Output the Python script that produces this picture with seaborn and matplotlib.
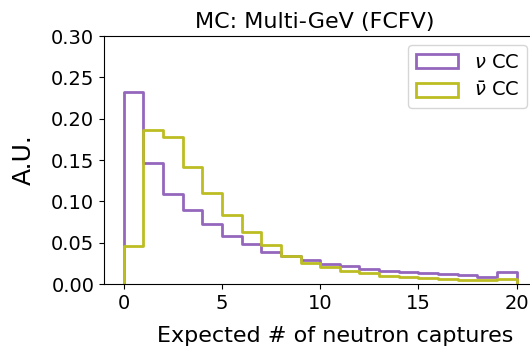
import numpy as np
import pandas as pd
import matplotlib
matplotlib.use("Agg")
import matplotlib.pyplot as plt
import seaborn as sns
from matplotlib.patches import Patch

# Bin edges (expected number of neutron captures)
bin_edges = list(range(0, 21))
# Normalised histogram contents per bin (A.U.)
nu_cc = [0.232, 0.146, 0.1085, 0.090, 0.0722, 0.0585, 0.048, 0.039, 0.034, 0.029,
         0.024, 0.0218, 0.0185, 0.0161, 0.0141, 0.0129, 0.0117, 0.0105, 0.0089, 0.0145]
nubar_cc = [0.046, 0.186, 0.178, 0.141, 0.110, 0.0835, 0.0625, 0.047, 0.034, 0.026,
            0.020, 0.0153, 0.0129, 0.0097, 0.008, 0.0068, 0.0056, 0.0048, 0.0044, 0.0064]
labels = [r"$\nu$ CC", r"$\bar{\nu}$ CC"]
colors = ["#9467bd", "#bcbd22"]
xticks = [0, 5, 10, 15, 20]
yticks = [0.00, 0.05, 0.10, 0.15, 0.20, 0.25, 0.30]

sns.set_style("ticks")
plt.rcParams["font.family"] = ["DejaVu Sans"]
plt.rcParams["text.color"] = "black"
plt.rcParams["axes.labelcolor"] = "black"
plt.rcParams["xtick.color"] = "black"
plt.rcParams["ytick.color"] = "black"

fig = plt.figure(figsize=(5.30, 3.48), dpi=100)
ax = fig.add_axes([104 / 530, 1 - 284 / 348, 432.3 / 530, 248 / 348])

centers = np.array(bin_edges[:-1]) + 0.5
handles = []
for vals, lab, col in zip([nu_cc, nubar_cc], labels, colors):
    df = pd.DataFrame({"x": centers, "w": vals})
    sns.histplot(data=df, x="x", weights="w", bins=bin_edges, element="step",
                 fill=False, color=col, linewidth=2, ax=ax)
    # closing vertical edges at both ends of the histogram, as in a step histogram
    ax.vlines([bin_edges[0], bin_edges[-1]], 0, [vals[0], vals[-1]], color=col, linewidth=2)
    handles.append(Patch(facecolor="none", edgecolor=col, linewidth=2, label=lab))

ax.set_xlim(-1, 21)
ax.set_ylim(0, 0.30)
ax.set_xticks(xticks)
ax.set_yticks(yticks)
ax.set_yticklabels([f"{t:.2f}" for t in yticks])
ax.tick_params(labelsize=14, colors="black")
ax.set_xlabel("Expected # of neutron captures", fontsize=16)
ax.xaxis.set_label_coords((335 - 104) / 432.3, -0.17)
ax.set_ylabel("A.U.", fontsize=18)
ax.yaxis.set_label_coords(-0.158, 0.5)
ax.set_title("MC: Multi-GeV (FCFV)", fontsize=16, x=(315 - 104) / 432.3)
for s in ["top", "right", "left", "bottom"]:
    ax.spines[s].set_visible(True)
    ax.spines[s].set_color("black")

fig.legend(handles=handles, loc="upper right", bbox_to_anchor=(527 / 530, 1 - 45 / 348),
           fontsize=14, frameon=True, borderaxespad=0, handlelength=2.2)

fig.savefig("out.png", dpi=100)
